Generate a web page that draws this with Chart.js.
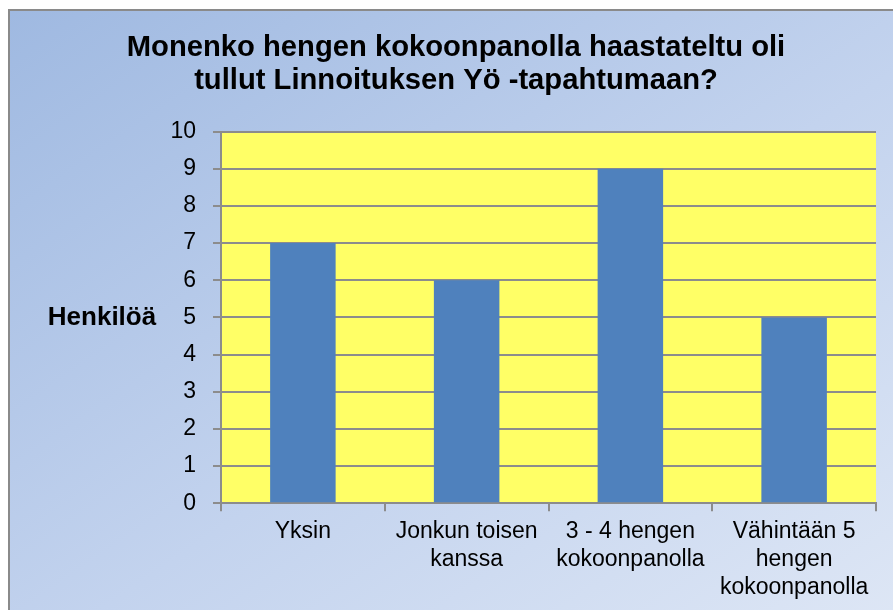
<!DOCTYPE html>
<html>
<head>
<meta charset="utf-8">
<script src="https://cdn.jsdelivr.net/npm/chart.js@4/dist/chart.umd.min.js"></script>
<style>
  html, body { margin: 0; padding: 0; background: #fff; }
  #frame {
    position: absolute; left: 8px; top: 9px; width: 885px; height: 601px;
    border-left: 2px solid #8a8a8a; border-top: 2px solid #8a8a8a;
    background: linear-gradient(to bottom right, #9fb9e1, #c3d3ee 55%, #dde6f5);
  }
  #wrap { position: absolute; left: 0; top: 0; width: 893px; height: 610px; }
</style>
</head>
<body>
<div id="frame"></div>
<div id="wrap"><canvas id="chart" width="893" height="610"></canvas></div>
<script>
// data
const categories = [
  'Yksin',
  ['Jonkun toisen', 'kanssa'],
  ['3 - 4 hengen', 'kokoonpanolla'],
  ['Vähintään 5', 'hengen', 'kokoonpanolla']
];
const counts = [7, 6, 9, 5];
const yTicks = [0, 1, 2, 3, 4, 5, 6, 7, 8, 9, 10];

const titleLines = ['Monenko hengen kokoonpanolla haastateltu oli', 'tullut Linnoituksen Yö -tapahtumaan?'];
const yTitle = 'Henkilöä';

const FONT = '"Liberation Sans", Arial, sans-serif';

// yellow plot area + horizontal axis title
const plotBg = {
  id: 'plotBg',
  beforeDraw(chart) {
    const { ctx, chartArea: a } = chart;
    ctx.save();
    ctx.fillStyle = '#ffff66';
    ctx.fillRect(a.left, a.top, a.right - a.left, a.bottom - a.top);
    ctx.restore();
  },
  afterDraw(chart) {
    const { ctx, chartArea: a } = chart;
    ctx.save();
    ctx.font = 'bold 26px ' + FONT;
    ctx.fillStyle = '#000';
    ctx.textAlign = 'center';
    ctx.textBaseline = 'middle';
    ctx.fillText(yTitle, 102, (a.top + a.bottom) / 2);
    ctx.restore();
  }
};

const ctx = document.getElementById('chart').getContext('2d');
new Chart(ctx, {
  type: 'bar',
  data: {
    labels: categories,
    datasets: [{
      data: counts,
      backgroundColor: '#4f81bd',
      borderWidth: 0,
      barPercentage: 0.4,
      categoryPercentage: 1
    }]
  },
  options: {
    responsive: false,
    animation: false,
    layout: { padding: { left: 36, right: 17, top: 0, bottom: 2 } },
    plugins: {
      legend: { display: false },
      tooltip: { enabled: false },
      title: {
        display: true,
        text: titleLines,
        color: '#000',
        font: { family: FONT, size: 29.2, weight: 'bold', lineHeight: 1.14 },
        padding: { top: 31, bottom: 34 }
      }
    },
    scales: {
      x: {
        grid: {
          drawOnChartArea: false,
          drawTicks: true,
          tickLength: 8,
          color: '#8c8c8c',
          lineWidth: 2
        },
        border: { color: '#8c8c8c', width: 2 },
        ticks: {
          color: '#000',
          autoSkip: false,
          maxRotation: 0,
          padding: 7,
          font: { family: FONT, size: 23, lineHeight: 1.2 }
        }
      },
      y: {
        min: 0,
        max: 10,
        afterFit(scale) { scale.width = 185; },
        afterBuildTicks(scale) { scale.ticks = yTicks.map(v => ({ value: v })); },
        grid: {
          color: '#8c8c8c',
          lineWidth: 2,
          tickLength: 8
        },
        border: { color: '#8c8c8c', width: 2 },
        ticks: {
          color: '#000',
          padding: 17,
          font: { family: FONT, size: 23 }
        }
      }
    }
  },
  plugins: [plotBg]
});
</script>
</body>
</html>
